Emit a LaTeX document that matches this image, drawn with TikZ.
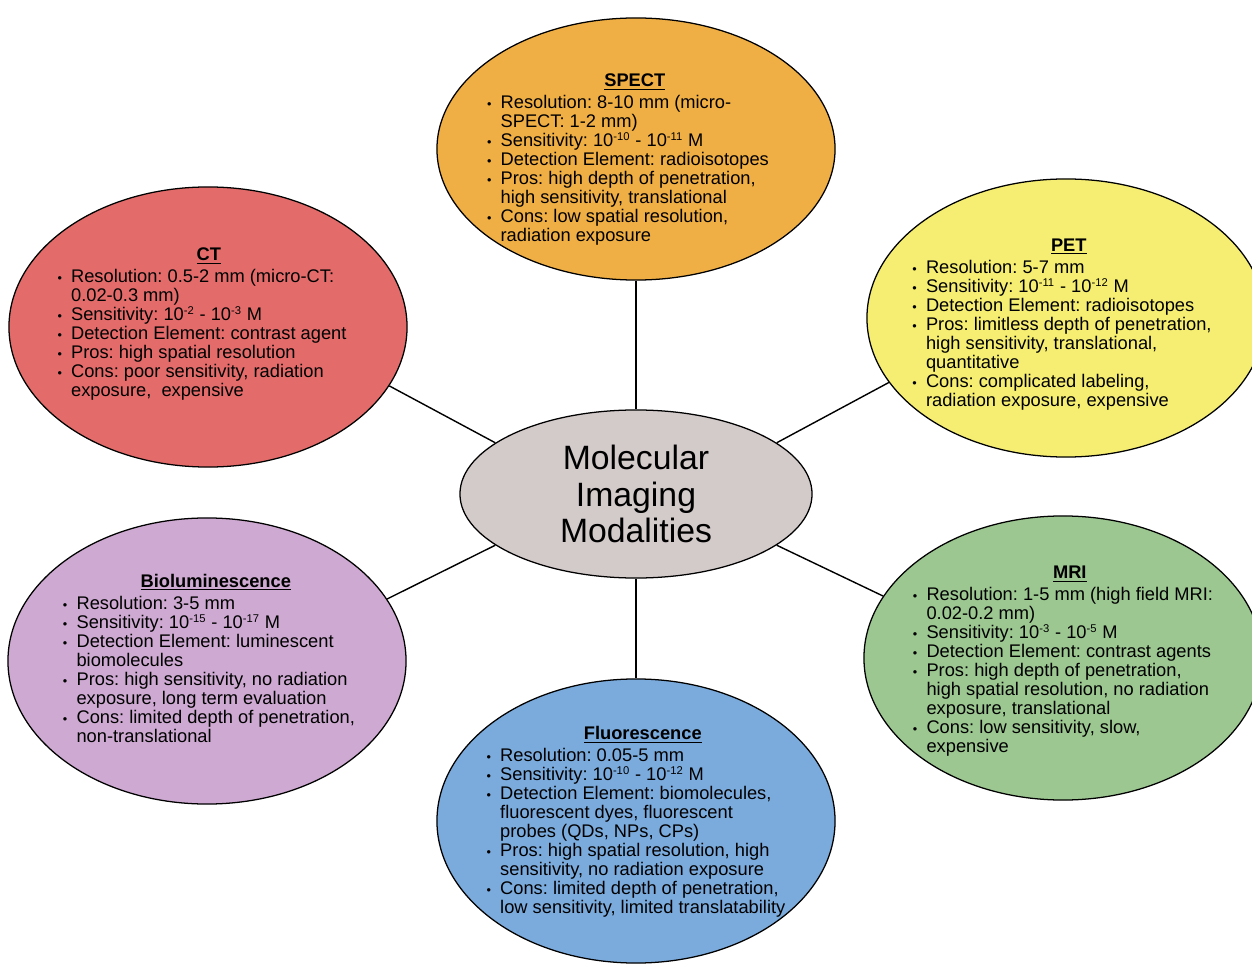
\documentclass[tikz,border=0pt]{standalone}
\usepackage{fontspec}
\setmainfont{Liberation Sans}
\usetikzlibrary{shapes.geometric}
\definecolor{spectc}{HTML}{F0AF45}
\definecolor{ctc}{HTML}{E36C6B}
\definecolor{petc}{HTML}{F5EE73}
\definecolor{bioc}{HTML}{CEA9D2}
\definecolor{mric}{HTML}{9CC791}
\definecolor{fluorc}{HTML}{7BABDD}
\definecolor{midc}{HTML}{D3CACA}
\frenchspacing
\newcommand{\hd}[1]{& \multicolumn{1}{c}{\textbf{\underline{#1}}}\\[2pt]}
\newcommand{\bl}{{\small\textbullet}}
\newcommand{\tn}[1]{10\smash{\textsuperscript{\footnotesize#1}}}
\begin{document}
\begin{tikzpicture}[x=0.025cm,y=-0.025cm,
  modal/.style={ellipse, draw, line width=0.9pt, minimum width=9.95cm, minimum height=7cm, inner sep=0pt},
  info/.style={inner sep=0pt, font=\fontsize{13}{13.5}\selectfont},
  link/.style={line width=1pt}]
\useasboundingbox (0,0) rectangle (1252,965);
\clip (0,0) rectangle (1252,965);
% ellipses
\node[modal, fill=spectc, minimum height=6.55cm] (spect) at (636,149) {};
\node[modal, fill=ctc] (ct) at (208,327) {};
\node[modal, fill=petc, minimum height=6.95cm] (pet) at (1066,318) {};
\node[modal, fill=bioc, minimum height=7.15cm] (bio) at (207,661) {};
\node[modal, fill=mric, minimum height=7.1cm] (mri) at (1063,658) {};
\node[modal, fill=fluorc, minimum height=7.1cm] (fluor) at (636,821) {};
\node[modal, fill=midc, minimum width=8.8cm, minimum height=4.2cm, align=center,
      font=\fontsize{24}{26}\selectfont] (mid) at (636,494) {Molecular\\Imaging\\Modalities};
% links
\draw[link] (spect.south) -- (mid.north);
\draw[link] (mid.south) -- (fluor.north);
\draw[link] (ct.-18) -- (mid.160);
\draw[link] (pet.200) -- (mid.20);
\draw[link] (bio.19) -- (mid.-160);
\draw[link] (mri.161) -- (mid.-20);
% texts
\node[info] (spectt) at ([xshift=-0.2cm,yshift=-0.28cm]spect.center) {\begin{tabular}{@{}l@{\hspace{6.5pt}}l@{}}
  \hd{SPECT}
  \bl & Resolution: 8-10 mm (micro-\\
      & SPECT: 1-2 mm)\\
  \bl & Sensitivity: \tn{-10} - \tn{-11} M\\
  \bl & Detection Element: radioisotopes\\
  \bl & Pros: high depth of penetration,\\
      & high sensitivity, translational\\
  \bl & Cons: low spatial resolution,\\
      & radiation exposure
  \end{tabular}};
\node[info] (ctt) at ([xshift=-0.15cm,yshift=0.05cm]ct.center) {\begin{tabular}{@{}l@{\hspace{6.5pt}}l@{}}
  \hd{CT}
  \bl & Resolution: 0.5-2 mm (micro-CT:\\
      & 0.02-0.3 mm)\\
  \bl & Sensitivity: \tn{-2} - \tn{-3} M\\
  \bl & Detection Element: contrast agent\\
  \bl & Pros: high spatial resolution\\
  \bl & Cons: poor sensitivity, radiation\\
      & exposure,\ \ expensive
  \end{tabular}};
\node[info] (pett) at ([xshift=-0.1cm,yshift=-0.18cm]pet.center) {\begin{tabular}{@{}l@{\hspace{6.5pt}}l@{}}
  \hd{PET}
  \bl & Resolution: 5-7 mm\\
  \bl & Sensitivity: \tn{-11} - \tn{-12} M\\
  \bl & Detection Element: radioisotopes\\
  \bl & Pros: limitless depth of penetration,\\
      & high sensitivity, translational,\\
      & quantitative\\
  \bl & Cons: complicated labeling,\\
      & radiation exposure, expensive
  \end{tabular}};
\node[info] (biot) at ([xshift=0.05cm]bio.center) {\begin{tabular}{@{}l@{\hspace{6.5pt}}l@{}}
  \hd{Bioluminescence}
  \bl & Resolution: 3-5 mm\\
  \bl & Sensitivity: \tn{-15} - \tn{-17} M\\
  \bl & Detection Element: luminescent\\
      & biomolecules\\
  \bl & Pros: high sensitivity, no radiation\\
      & exposure, long term evaluation\\
  \bl & Cons: limited depth of penetration,\\
      & non-translational
  \end{tabular}};
\node[info] (mrit) at ([yshift=-0.1cm]mri.center) {\begin{tabular}{@{}l@{\hspace{6.5pt}}l@{}}
  \hd{MRI}
  \bl & Resolution: 1-5 mm (high field MRI:\\
      & 0.02-0.2 mm)\\
  \bl & Sensitivity: \tn{-3} - \tn{-5} M\\
  \bl & Detection Element: contrast agents\\
  \bl & Pros: high depth of penetration,\\
      & high spatial resolution, no radiation\\
      & exposure, translational\\
  \bl & Cons: low sensitivity, slow,\\
      & expensive
  \end{tabular}};
\node[info] (fluort) at ([yshift=-0.05cm]fluor.center) {\begin{tabular}{@{}l@{\hspace{6.5pt}}l@{}}
  \hd{Fluorescence}
  \bl & Resolution: 0.05-5 mm\\
  \bl & Sensitivity: \tn{-10} - \tn{-12} M\\
  \bl & Detection Element: biomolecules,\\
      & fluorescent dyes, fluorescent\\
      & probes (QDs, NPs, CPs)\\
  \bl & Pros: high spatial resolution, high\\
      & sensitivity, no radiation exposure\\
  \bl & Cons: limited depth of penetration,\\
      & low sensitivity, limited translatability
  \end{tabular}};
\end{tikzpicture}
\end{document}
